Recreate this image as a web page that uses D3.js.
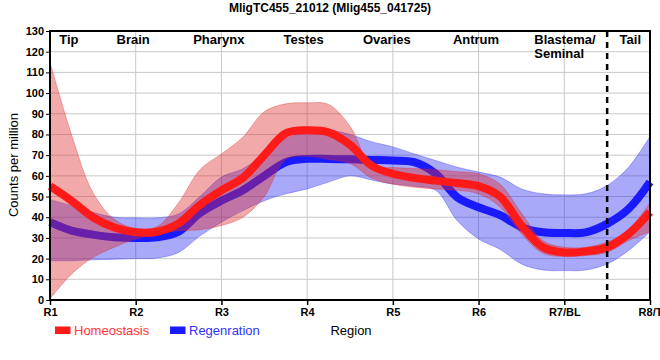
<!DOCTYPE html>
<html><head><meta charset="utf-8">
<script src="https://cdn.jsdelivr.net/npm/d3@7"></script>
<style>
body{margin:0;background:#fff;}
text{font-family:"Liberation Sans",Arial,sans-serif;}
</style></head>
<body><svg id="c" width="660" height="360"></svg>
<script>
// ---- data ----
const regionTicks = [1,2,3,4,5,6,7,8];
const regionLabels = ["R1","R2","R3","R4","R5","R6","R7/BL","R8/T"];
const sampleX = [1,1.25,1.5,1.75,2,2.25,2.5,2.75,3,3.25,3.5,3.75,4,4.25,4.5,4.75,5,5.25,5.5,5.75,6,6.25,6.5,6.75,7,7.25,7.5,7.75,8];
const homeoMean  = [55,48,40,35,32.7,33,37,46,53,59,70,80.5,82,81,75,65,61,59,57.7,56.5,55,50,36,25.5,23,23.5,25.5,32,42.5];
const homeoUpper = [115,80,52,39,34.5,35.5,47,63,70.6,78.7,91,94.8,95.3,94.5,84,65,64,63.5,63,62,61,56,42,28.7,25.5,25.5,28,34,47];
const homeoLower = [0.5,12.5,20.5,25.5,29.5,32,33.5,34,36,40,50,68,69.5,68,66,59,56,54.5,53.7,53,51.3,45,32,22.6,21,21.5,23,28.7,33];
const regenMean  = [37.6,33.5,31.6,30.3,30,30.3,33,42,48,53,60,66.6,68.2,68.2,68,67.7,67.4,66.6,61,49.7,44.8,41,35.2,32.7,32.4,32.7,36.8,44,57];
const regenUpper = [48.5,45.6,42.4,40,39.7,39.7,41.6,50,59.4,63.4,70.6,78,81,82,80,76.5,74,70.6,67.4,64.2,61.8,59.4,53.7,51.3,50.8,51.3,55.3,64.2,79];
const regenLower = [19,19,19.4,19.7,20,20.3,23,31,37.6,43.2,48,51.3,53.7,57,60,58,56,55,53,38.4,29.5,24.5,17.4,14.5,14.2,14.5,17.4,23.9,33];
const yTicks = [0,10,20,30,40,50,60,70,80,90,100,110,120,130];
const tissueNames = ["Tip","Brain","Pharynx","Testes","Ovaries","Antrum","Tail"];
const tissueAt = [1.22,1.97,2.97,3.96,4.93,5.97,7.77];
const blastemaLines = ["Blastema/","Seminal"];
const blastemaAt = 6.65;
const tailBoundary = 7.5;
const seriesNames = ["Homeostasis","Regenration"];
const title = "MligTC455_21012 (Mlig455_041725)";

// ---- layout ----
const svg = d3.select("#c");
const L=50, R=650, T=31, B=300;
const x = d3.scaleLinear().domain([1,8]).range([L,R]);
const y = d3.scaleLinear().domain([0,130]).range([B,T]);

const redLine="#ff1a1a", blueLine="#1a1aff";
const redFill="rgb(222,40,40)", blueFill="rgb(40,40,240)";
const curve = d3.curveCatmullRom.alpha(0.5);

// grid
svg.append("g").selectAll("line").data(yTicks).join("line")
  .attr("x1",L).attr("x2",R).attr("y1",d=>y(d)).attr("y2",d=>y(d))
  .attr("stroke","#c8c8c8").attr("stroke-width",1);
svg.append("g").selectAll("line").data(regionTicks).join("line")
  .attr("x1",d=>x(d)).attr("x2",d=>x(d)).attr("y1",T).attr("y2",B)
  .attr("stroke","#c8c8c8").attr("stroke-width",1);

const pts = (lo,hi)=>sampleX.map((v,i)=>({x:v,lo:lo[i],hi:hi[i]}));
const area = d3.area().x(d=>x(d.x)).y0(d=>y(d.lo)).y1(d=>y(d.hi)).curve(curve);
const line = d3.line().x(d=>x(d.x)).y(d=>y(d.v)).curve(curve);
const lpts = arr=>sampleX.map((v,i)=>({x:v,v:arr[i]}));

// blue band, blue line, red band, red line
svg.append("path").datum(pts(regenLower,regenUpper)).attr("d",area)
  .attr("fill",blueFill).attr("fill-opacity",0.4)
  .attr("stroke",blueFill).attr("stroke-opacity",0.35).attr("stroke-width",1);
svg.append("path").datum(lpts(regenMean)).attr("d",line)
  .attr("fill","none").attr("stroke",blueLine).attr("stroke-width",8);
svg.append("path").datum(pts(homeoLower,homeoUpper)).attr("d",area)
  .attr("fill",redFill).attr("fill-opacity",0.4)
  .attr("stroke",redFill).attr("stroke-opacity",0.35).attr("stroke-width",1);
svg.append("path").datum(lpts(homeoMean)).attr("d",line)
  .attr("fill","none").attr("stroke",redLine).attr("stroke-width",8);

// dashed tail boundary
svg.append("line").attr("x1",x(tailBoundary)).attr("x2",x(tailBoundary))
  .attr("y1",T).attr("y2",B+5).attr("stroke","#000").attr("stroke-width",2.5)
  .attr("stroke-dasharray","6,5");

// axes
const ya = svg.append("g").attr("transform",`translate(${L},0)`)
  .call(d3.axisLeft(y).tickValues(yTicks).tickSize(4).tickPadding(2));
ya.select(".domain").remove();
ya.selectAll("text").attr("font-size","11px").attr("font-weight","bold")
  .attr("font-family","'Liberation Sans',Arial,sans-serif").attr("fill","#000");
ya.selectAll("line").attr("stroke","#000");

const xa = svg.append("g").attr("transform",`translate(0,${B})`)
  .call(d3.axisBottom(x).tickValues(regionTicks).tickFormat((d,i)=>regionLabels[i]).tickSize(5).tickPadding(3));
xa.select(".domain").remove();
xa.selectAll("text").attr("font-size","11px").attr("font-weight","bold")
  .attr("font-family","'Liberation Sans',Arial,sans-serif").attr("fill","#000");
xa.selectAll("line").attr("stroke","#000").attr("stroke-width",1.5);

// frame
svg.append("rect").attr("x",L).attr("y",T).attr("width",R-L).attr("height",B-T)
  .attr("fill","none").attr("stroke","#000").attr("stroke-width",2);

// tissue labels
svg.append("g").selectAll("text").data(tissueNames).join("text")
  .attr("x",(d,i)=>x(tissueAt[i])).attr("y",44).attr("text-anchor","middle")
  .attr("font-size","13px").attr("font-weight","bold").text(d=>d);
svg.append("g").selectAll("text").data(blastemaLines).join("text")
  .attr("x",x(blastemaAt)).attr("y",(d,i)=>44+i*14).attr("text-anchor","start")
  .attr("font-size","13px").attr("font-weight","bold").text(d=>d);

// title
svg.append("text").attr("x",330).attr("y",12).attr("text-anchor","middle")
  .attr("font-size","12px").attr("font-weight","bold").text(title);

// axis titles
svg.append("text").attr("transform","translate(18,165) rotate(-90)").attr("text-anchor","middle")
  .attr("font-size","13px").text("Counts per million");
svg.append("text").attr("x",351).attr("y",335).attr("text-anchor","middle")
  .attr("font-size","13px").text("Region");

// legend
const legX=[55,170], legC=[redLine,blueLine], legT=["#ff3333","#3333ff"];
seriesNames.forEach((n,i)=>{
  svg.append("rect").attr("x",legX[i]).attr("y",326.5).attr("width",15.5).attr("height",7.5).attr("fill",legC[i]);
  svg.append("text").attr("x",legX[i]+19).attr("y",335).attr("font-size","13px").attr("fill",legT[i]).text(n);
});
</script></body></html>
